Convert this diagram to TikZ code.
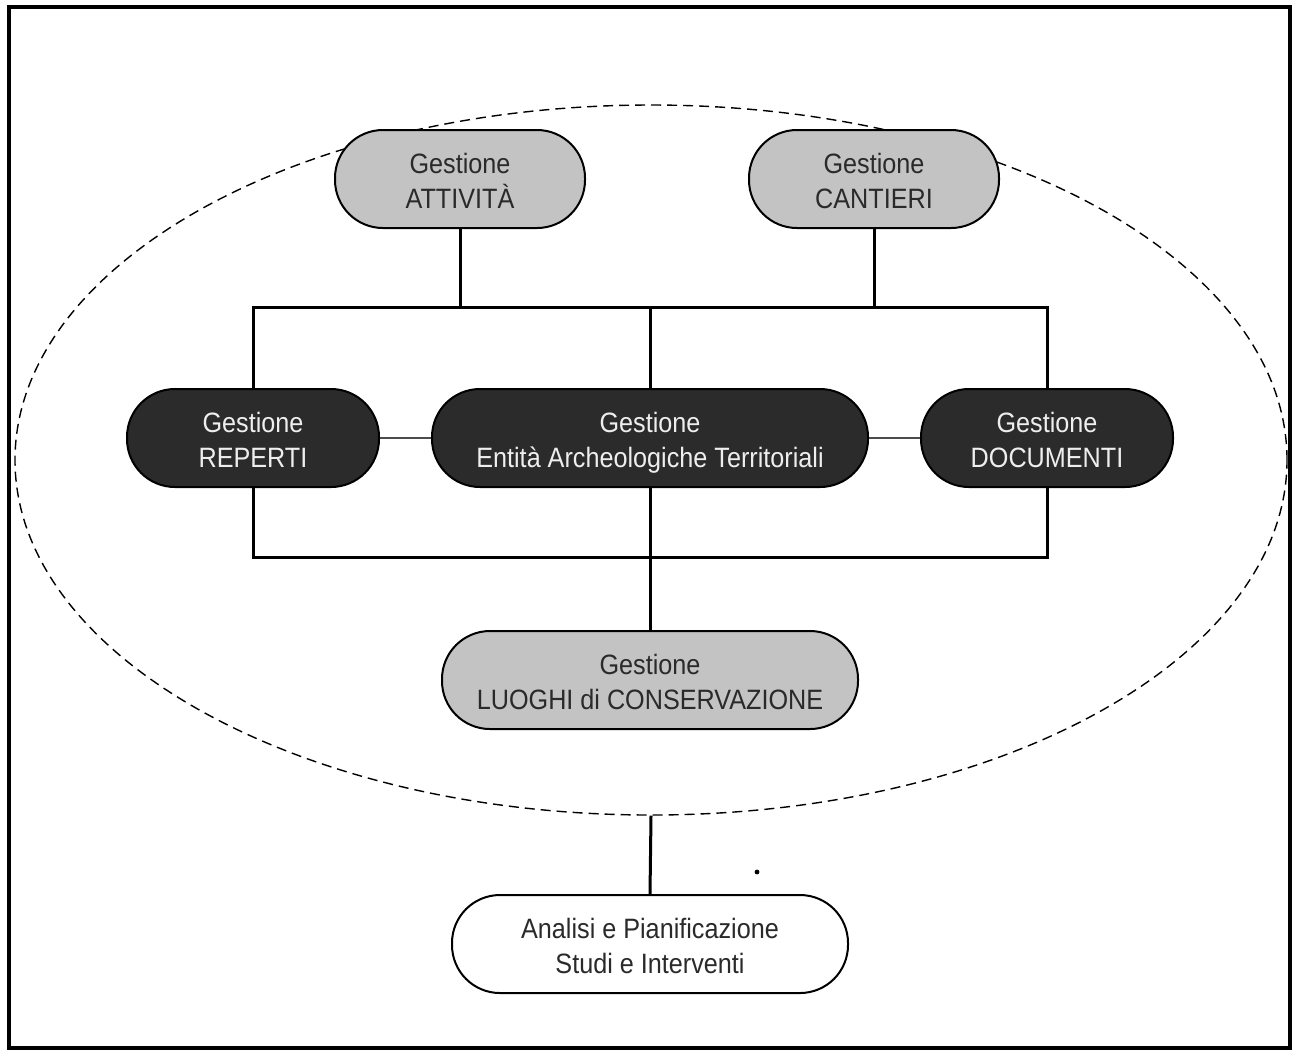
\documentclass[tikz,border=0pt]{standalone}
\usepackage{fontspec}
\setmainfont{Liberation Sans}[FakeStretch=0.9]
\usepackage{tikz}
\usetikzlibrary{shapes.geometric, positioning, calc}
\definecolor{PaleGrey}{HTML}{C3C3C3}
\definecolor{DarkBox}{HTML}{2B2B2B}
\definecolor{InkGrey}{HTML}{2A2A2A}
\definecolor{LightInk}{HTML}{EEEEEE}

\begin{document}
\begin{tikzpicture}[x=0.5pt, y=-0.5pt,
    every node/.style={font=\fontsize{14}{17.5}\selectfont, align=center},
    pill/.style={rectangle, rounded corners=24pt, draw=black, line width=1pt,
                 minimum height=49pt, inner sep=0pt, text height=34pt, text depth=5pt},
    lightbox/.style={pill, fill=PaleGrey, text=InkGrey, minimum width=125pt},
    darkbox/.style={pill, fill=DarkBox, text=LightInk},
    whitebox/.style={pill, fill=white, text=InkGrey},
    link/.style={line width=1.5pt},
    sidelink/.style={line width=1pt, black!70}]
    \useasboundingbox (0,0) rectangle (1299,1057);

    % Frame
    \draw[line width=1.6pt] (9,7) rectangle (1290,1048);

    % Dashed area
    \node (area) [ellipse, draw, dashed, dash pattern=on 5pt off 3pt, line width=0.7pt,
                  minimum width=636pt, minimum height=355pt, inner sep=0pt] at (651,460) {};

    % Boxes
    \node (att) [lightbox] at (460,179) {Gestione\\ATTIVIT\`A};
    \node (can) [lightbox] at (874,179) {Gestione\\CANTIERI};
    \node (rep) [darkbox, minimum width=126pt] at (253,438) {Gestione\\REPERTI};
    \node (ent) [darkbox, minimum width=218pt] at (650,438) {Gestione\\Entit\`a Archeologiche Territoriali};
    \node (doc) [darkbox, minimum width=126pt] at (1047,438) {Gestione\\DOCUMENTI};
    \node (luo) [lightbox, minimum width=208pt] at (650,680) {Gestione\\LUOGHI di CONSERVAZIONE};
    \node (ana) [whitebox, minimum width=198pt] at (650,944) {Analisi e Pianificazione\\Studi e Interventi};

    % Buses
    \coordinate (bustop) at (650,307);
    \coordinate (busbot) at (650,557);
    \draw[link] (att.south) -- (att.south |- bustop);
    \draw[link] (can.south) -- (can.south |- bustop);
    \draw[link] (rep.north) -- (rep.north |- bustop) -- (doc.north |- bustop) -- (doc.north);
    \draw[link] (ent.north) -- (bustop);
    \draw[link] (rep.south) -- (rep.south |- busbot) -- (doc.south |- busbot) -- (doc.south);
    \draw[link] (ent.south) -- (luo.north);
    \draw[sidelink] (rep.east) -- (ent.west);
    \draw[sidelink] (ent.east) -- (doc.west);
    \draw[link] (area.south) -- (ana.north);

    % stray dot
    \fill (757,872) circle (1.2pt);
\end{tikzpicture}
\end{document}
